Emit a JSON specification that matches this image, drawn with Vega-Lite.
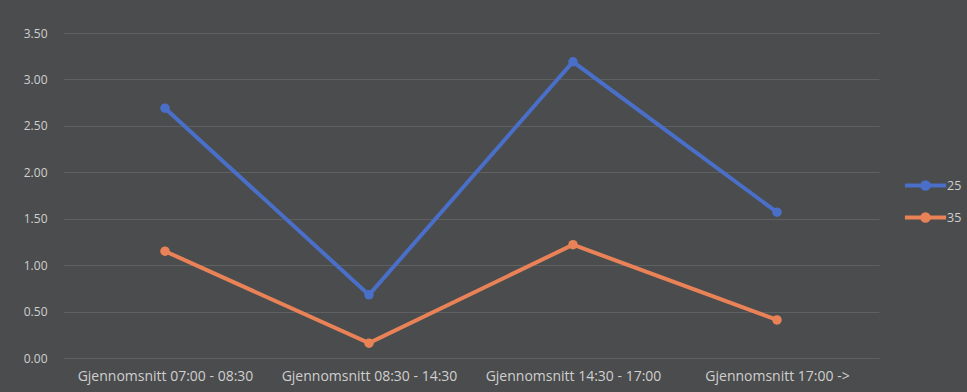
{
  "$schema": "https://vega.github.io/schema/vega-lite/v6.json",
  "width": 816,
  "height": 325,
  "autosize": {"type": "none"},
  "padding": {"left": 63, "top": 33, "right": 88, "bottom": 34},
  "background": "#4b4c4d",
  "data": {
    "values": [
      {"periode": "Gjennomsnitt 07:00 - 08:30", "serie": "25", "verdi": 2.69},
      {"periode": "Gjennomsnitt 08:30 - 14:30", "serie": "25", "verdi": 0.68},
      {"periode": "Gjennomsnitt 14:30 - 17:00", "serie": "25", "verdi": 3.19},
      {"periode": "Gjennomsnitt 17:00 ->", "serie": "25", "verdi": 1.57},
      {"periode": "Gjennomsnitt 07:00 - 08:30", "serie": "35", "verdi": 1.15},
      {"periode": "Gjennomsnitt 08:30 - 14:30", "serie": "35", "verdi": 0.16},
      {"periode": "Gjennomsnitt 14:30 - 17:00", "serie": "35", "verdi": 1.22},
      {"periode": "Gjennomsnitt 17:00 ->", "serie": "35", "verdi": 0.41}
    ]
  },
  "mark": {"type": "line", "strokeWidth": 4, "point": {"filled": true, "size": 90}},
  "encoding": {
    "x": {
      "field": "periode",
      "type": "nominal",
      "sort": null,
      "scale": {"type": "point", "padding": 0.5},
      "axis": {
        "title": null,
        "labelAngle": 0,
        "domain": false,
        "ticks": false,
        "labelPadding": 11,
        "labelColor": "#cfcfcf",
        "labelFont": "Open Sans",
        "labelFontSize": 14
      }
    },
    "y": {
      "field": "verdi",
      "type": "quantitative",
      "scale": {"domain": [0, 3.5]},
      "axis": {
        "title": null,
        "values": [0, 0.5, 1, 1.5, 2, 2.5, 3, 3.5],
        "format": ".2f",
        "domain": false,
        "ticks": false,
        "labelPadding": 16,
        "labelColor": "#cfcfcf",
        "labelFont": "Open Sans",
        "labelFontSize": 12,
        "gridColor": "#5f6061",
        "gridWidth": 1
      }
    },
    "color": {
      "field": "serie",
      "type": "nominal",
      "scale": {"domain": ["25", "35"], "range": ["#4a6fc8", "#ea8258"]},
      "legend": {
        "title": null,
        "orient": "none",
        "legendX": 851,
        "legendY": 141,
        "rowPadding": 9,
        "symbolType": "M-2.2,0H2.2M-0.35,0A0.35,0.35 0 1,0 0.35,0A0.35,0.35 0 1,0 -0.35,0Z",
        "symbolSize": 350,
        "symbolStrokeWidth": 4,
        "labelColor": "#cfcfcf",
        "labelFont": "Open Sans",
        "labelFontSize": 12.5,
        "labelOffset": 10
      }
    }
  },
  "config": {"view": {"stroke": null}}
}
